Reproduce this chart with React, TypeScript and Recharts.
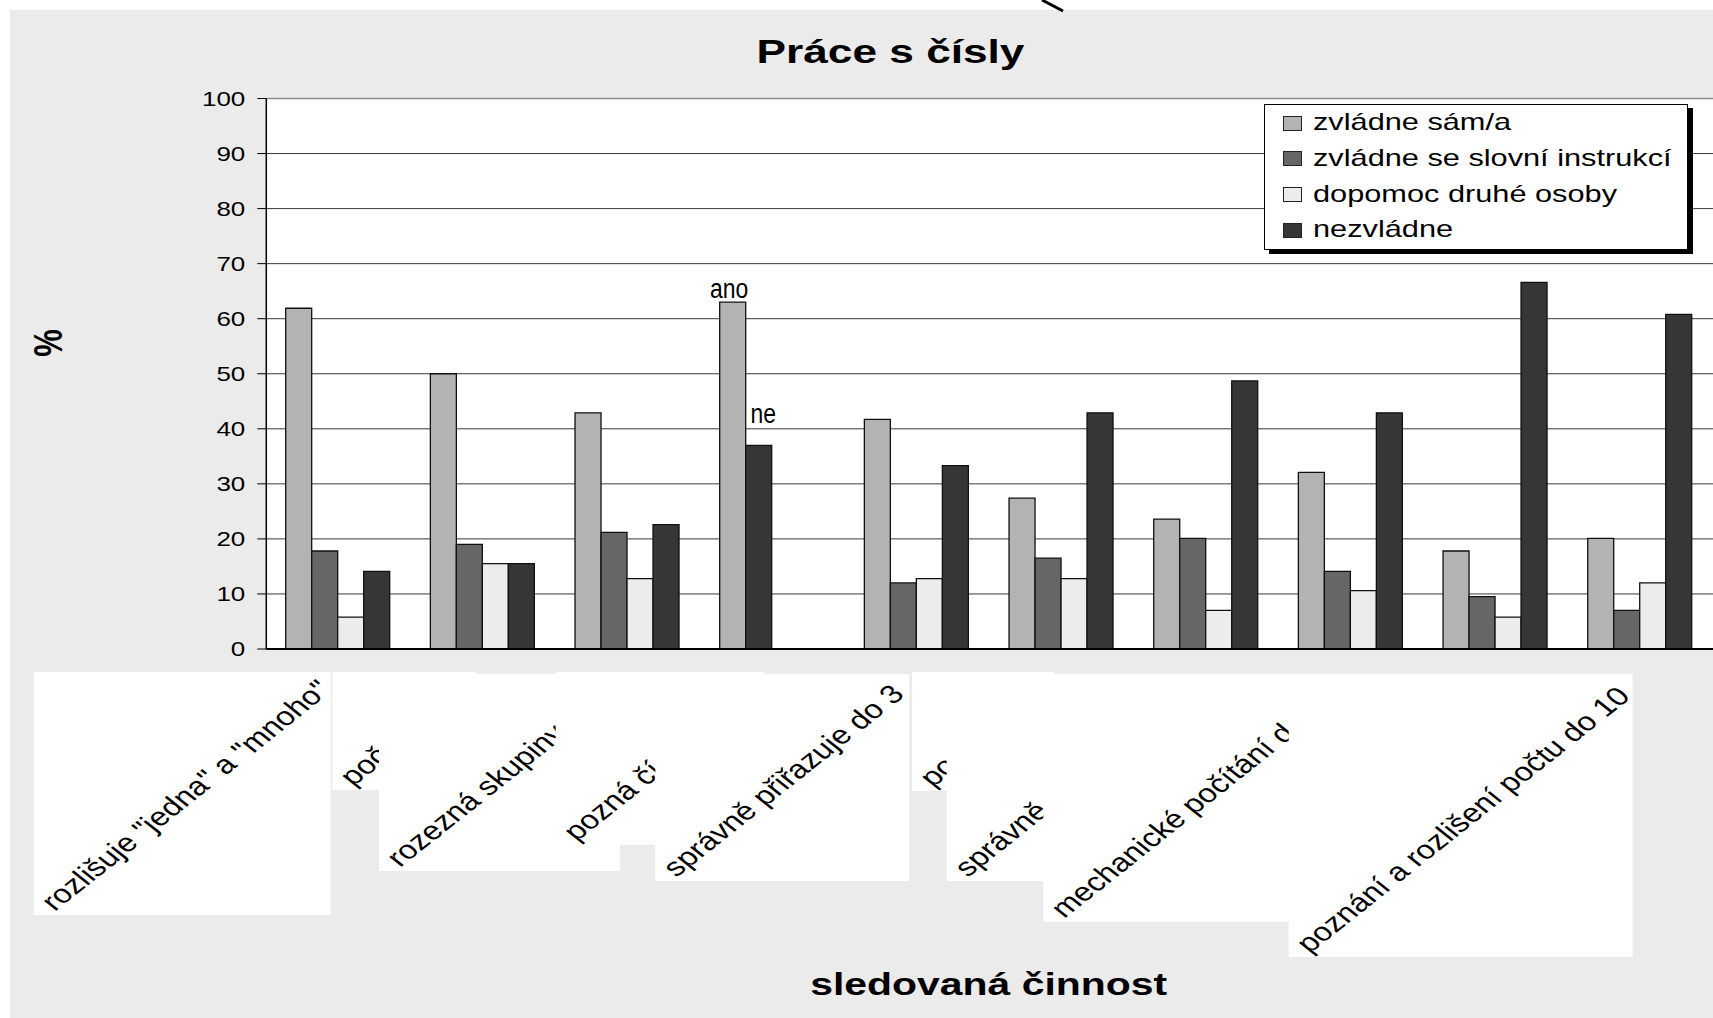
import React from 'react';
import {
  BarChart,
  Bar,
  XAxis,
  YAxis,
  CartesianGrid,
  Legend,
  Cell,
  LabelList,
  ReferenceLine,
} from 'recharts';

// ---------------- data ----------------
const categories = [
  'rozlišuje "jedna" a "mnoho"',
  'poč',
  'rozezná skupiny',
  'pozná čí',
  'správně přiřazuje do 3',
  'po',
  'správně',
  'mechanické počítání d',
  '',
  'poznání a rozlišení počtu do 10',
];
const seriesNames = [
  'zvládne sám/a',
  'zvládne se slovní instrukcí',
  'dopomoc druhé osoby',
  'nezvládne',
];
const zvladneSam = [61.9, 50.0, 42.9, 63.0, 41.7, 27.4, 23.6, 32.1, 17.8, 20.1];
const slovniInstrukce = [17.8, 19.0, 21.2, 37.0, 12.0, 16.5, 20.1, 14.1, 9.5, 7.0];
const dopomoc = [5.8, 15.5, 12.8, null, 12.8, 12.8, 7.0, 10.6, 5.8, 12.0];
const nezvladne = [14.1, 15.5, 22.6, null, 33.3, 42.9, 48.7, 42.9, 66.6, 60.8];
const popiskySam = ['', '', '', 'ano', '', '', '', '', '', ''];
const popiskyInstrukce = ['', '', '', 'ne', '', '', '', '', '', ''];
const yTicks = [0, 10, 20, 30, 40, 50, 60, 70, 80, 90, 100];

const data = categories.map((name, i) => ({
  name,
  s1: zvladneSam[i],
  s2: slovniInstrukce[i],
  s3: dopomoc[i],
  s4: nezvladne[i],
  a1: popiskySam[i],
  a2: popiskyInstrukce[i],
}));

// ---------------- styles / layout ----------------
const FONT = '"Liberation Sans", Arial, Helvetica, sans-serif';
const STRETCH = 1.3;
const LABEL_STRETCH = 1.256;
const COLORS = ['#b3b3b3', '#666666', '#ececec', '#363636'];
const BAR_STROKE = '#111';

// white label boxes under the category axis: width, height, top offset
const LABEL_BOXES = [
  { w: 297, h: 243, t: 23 },
  { w: 143, h: 118, t: 23 },
  { w: 241, h: 197, t: 25 },
  { w: 209, h: 173, t: 23 },
  { w: 254, h: 207, t: 25 },
  { w: 142, h: 119, t: 23 },
  { w: 252, h: 207, t: 25 },
  { w: 300, h: 248, t: 25 },
  null,
  { w: 344, h: 283, t: 25 },
];

const CategoryTick = (props: any) => {
  const { x, y, payload, index } = props;
  const box = LABEL_BOXES[index];
  if (!box || !payload || !payload.value) return <g />;
  const right = x - 8;
  const left = right - box.w;
  const top = y + box.t;
  const bottom = top + box.h;
  const sx = left + 21;
  const sy = bottom - 3;
  return (
    <g>
      <rect x={left} y={top} width={box.w} height={box.h} fill="#fff" />
      <text
        transform={`translate(${sx},${sy}) scale(${LABEL_STRETCH},1) rotate(-45)`}
        x={0}
        y={0}
        textAnchor="start"
        fontSize={26.1}
        fontFamily={FONT}
        fill="#000"
      >
        {payload.value}
      </text>
    </g>
  );
};

const ValueTick = (props: any) => {
  const { x, y, payload } = props;
  return (
    <text
      transform={`translate(${x},${y}) scale(${STRETCH},1)`}
      x={0}
      y={0}
      dy="0.35em"
      textAnchor="end"
      fontSize={20}
      fontFamily={FONT}
      fill="#000"
    >
      {payload.value}
    </text>
  );
};

const makeAnnot = (dx: number, offset: number) => (props: any) => {
  const { x, y, width, value } = props;
  if (!value) return null;
  const cx = Number(x) + Number(width) / 2 + dx;
  const cy = Number(y) - offset;
  return (
    <text
      transform={`translate(${cx},${cy}) scale(0.85,1)`}
      x={0}
      y={0}
      textAnchor="middle"
      fontSize={27}
      fontFamily={FONT}
      fill="#000"
    >
      {value}
    </text>
  );
};

const renderLegend = (props: any) => {
  const payload = [...(props.payload || [])].sort(
    (a: any, b: any) => seriesNames.indexOf(a.value) - seriesNames.indexOf(b.value)
  );
  return (
    <div
      style={{
        boxSizing: 'border-box',
        width: 424,
        height: 146,
        background: '#fff',
        border: '1.5px solid #000',
        boxShadow: '5px 4px 0 #000',
        position: 'relative',
      }}
    >
      {payload.map((entry: any, i: number) => (
        <div
          key={entry.value}
          style={{ position: 'absolute', left: 0, top: -1 + i * 35.8, height: 35.8, width: 420 }}
        >
          <span
            style={{
              position: 'absolute',
              left: 17.8,
              top: 11.5,
              width: 19.5,
              height: 15,
              boxSizing: 'border-box',
              background: entry.color,
              border: '1.2px solid #222',
            }}
          />
          <span
            style={{
              position: 'absolute',
              left: 47.5,
              top: 0,
              lineHeight: '35.8px',
              fontSize: 24,
              fontFamily: FONT,
              color: '#000',
              whiteSpace: 'nowrap',
              transform: 'scaleX(1.28)',
              transformOrigin: 'left center',
            }}
          >
            {entry.value}
          </span>
        </div>
      ))}
    </div>
  );
};

export default function App() {
  return (
    <div
      style={{
        position: 'fixed',
        left: 0,
        top: 0,
        width: 1713,
        height: 1018,
        background: '#fff',
        overflow: 'hidden',
      }}
    >
      <div
        style={{ position: 'absolute', left: 10, top: 10, right: 0, bottom: 0, background: '#ebebeb' }}
      />
      <div style={{ position: 'absolute', left: 0, top: 0 }}>
        <BarChart
          width={1713}
          height={1018}
          data={data}
          margin={{ top: 98.5, right: 0, bottom: 39, left: 0 }}
          barCategoryGap="13.4%"
          barGap={0}
        >
          <CartesianGrid vertical={false} stroke="#3a3a3a" strokeWidth={1} fill="#fff" />
          <ReferenceLine y={100} stroke="#8c8c8c" strokeWidth={1.5} />
          <XAxis
            dataKey="name"
            interval={0}
            tickLine={false}
            tickSize={0}
            tickMargin={0}
            height={330}
            axisLine={{ stroke: '#000', strokeWidth: 2 }}
            tick={CategoryTick}
          />
          <YAxis
            domain={[0, 100]}
            ticks={yTicks}
            width={266.3}
            tickSize={9}
            tickMargin={12}
            axisLine={{ stroke: '#000', strokeWidth: 1.5 }}
            tickLine={{ stroke: '#000', strokeWidth: 1 }}
            tick={ValueTick}
            interval={0}
          />
          <Legend
            layout="vertical"
            align="center"
            verticalAlign="middle"
            wrapperStyle={{ left: 1264, top: 104, width: 424, height: 146 }}
            content={renderLegend}
          />
          <Bar dataKey="s1" name={seriesNames[0]} fill={COLORS[0]} stroke={BAR_STROKE} strokeWidth={1.3} isAnimationActive={false}>
            <LabelList dataKey="a1" content={makeAnnot(-3.5, 3.7)} />
          </Bar>
          <Bar dataKey="s2" name={seriesNames[1]} fill={COLORS[1]} stroke={BAR_STROKE} strokeWidth={1.3} isAnimationActive={false}>
            {data.map((d, i) => (
              <Cell key={`c${i}`} fill={d.a2 ? COLORS[3] : COLORS[1]} />
            ))}
            <LabelList dataKey="a2" content={makeAnnot(4.6, 22.5)} />
          </Bar>
          <Bar dataKey="s3" name={seriesNames[2]} fill={COLORS[2]} stroke={BAR_STROKE} strokeWidth={1.3} isAnimationActive={false} />
          <Bar dataKey="s4" name={seriesNames[3]} fill={COLORS[3]} stroke={BAR_STROKE} strokeWidth={1.3} isAnimationActive={false} />
        </BarChart>
      </div>
      <svg
        width={1713}
        height={1018}
        style={{ position: 'absolute', left: 0, top: 0, pointerEvents: 'none' }}
      >
        <line x1={1042} y1={0} x2={1063} y2={11} stroke="#000" strokeWidth={3} />
        <text
          transform={`translate(890.5,62.5) scale(${STRETCH},1)`}
          textAnchor="middle"
          fontSize={34}
          fontWeight="bold"
          fontFamily={FONT}
          fill="#000"
        >
          Práce s čísly
        </text>
        <text
          transform={`translate(988.7,995) scale(${STRETCH},1)`}
          textAnchor="middle"
          fontSize={31.5}
          fontWeight="bold"
          fontFamily={FONT}
          fill="#000"
        >
          sledovaná činnost
        </text>
        <text
          transform={`translate(62,343) scale(${STRETCH},1) rotate(-90)`}
          textAnchor="middle"
          fontSize={31}
          fontWeight="bold"
          fontFamily={FONT}
          fill="#000"
        >
          %
        </text>
      </svg>
    </div>
  );
}
